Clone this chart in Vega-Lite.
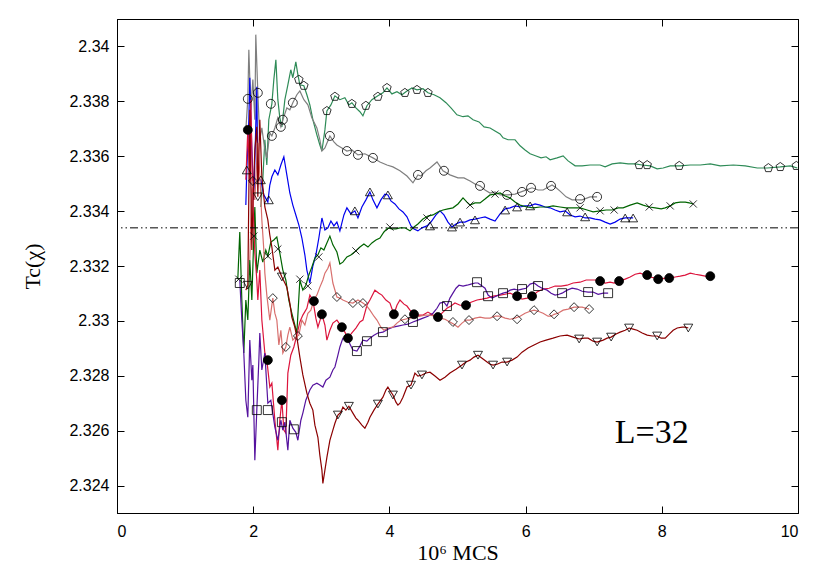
{
"$schema":"https://vega.github.io/schema/vega-lite/v6.json",
"width":681,"height":494,
"autosize":{"type":"none"},
"padding":{"left":117,"top":19,"right":32,"bottom":68},
"background":"white",
"config":{"view":{"stroke":"black","strokeWidth":1},
"axis":{"grid":false,"domainColor":"black","tickColor":"black","labelColor":"black","titleColor":"black","labelFont":"Liberation Sans","labelFontSize":16,"titleFont":"Liberation Serif","titleFontSize":22,"titleFontWeight":"normal","tickSize":-7,"domainWidth":1}},
"datasets":{
"lines":[
{"s":"a","x":2.112,"y":2.33415},{"s":"a","x":2.141,"y":2.33514},{"s":"a","x":2.171,"y":2.3366},{"s":"a","x":2.2,"y":2.33568},{"s":"a","x":2.229,"y":2.33733},{"s":"a","x":2.274,"y":2.33791},{"s":"a","x":2.303,"y":2.33879},{"s":"a","x":2.333,"y":2.33951},{"s":"a","x":2.362,"y":2.33806},{"s":"a","x":2.391,"y":2.3374},{"s":"a","x":2.421,"y":2.33707},{"s":"a","x":2.465,"y":2.33806},{"s":"a","x":2.509,"y":2.3386},{"s":"a","x":2.552,"y":2.33915},{"s":"a","x":2.582,"y":2.33886},{"s":"a","x":2.626,"y":2.33944},{"s":"a","x":2.656,"y":2.33897},{"s":"a","x":2.685,"y":2.3386},{"s":"a","x":2.744,"y":2.33857},{"s":"a","x":2.788,"y":2.33824},{"s":"a","x":2.832,"y":2.33787},{"s":"a","x":2.876,"y":2.33733},{"s":"a","x":2.935,"y":2.33678},{"s":"a","x":2.979,"y":2.33641},{"s":"a","x":3.009,"y":2.33619},{"s":"a","x":3.053,"y":2.33696},{"s":"a","x":3.082,"y":2.33765},{"s":"a","x":3.141,"y":2.33787},{"s":"a","x":3.2,"y":2.3382},{"s":"a","x":3.273,"y":2.33806},{"s":"a","x":3.346,"y":2.33813},{"s":"a","x":3.405,"y":2.33787},{"s":"a","x":3.449,"y":2.33795},{"s":"a","x":3.508,"y":2.33776},{"s":"a","x":3.567,"y":2.33762},{"s":"a","x":3.611,"y":2.33747},{"s":"a","x":3.67,"y":2.33784},{"s":"a","x":3.743,"y":2.33806},{"s":"a","x":3.831,"y":2.3382},{"s":"a","x":3.905,"y":2.33831},{"s":"a","x":3.964,"y":2.33849},{"s":"a","x":4.037,"y":2.33827},{"s":"a","x":4.111,"y":2.33835},{"s":"a","x":4.184,"y":2.33824},{"s":"a","x":4.258,"y":2.33838},{"s":"a","x":4.331,"y":2.33849},{"s":"a","x":4.405,"y":2.33842},{"s":"a","x":4.493,"y":2.33846},{"s":"a","x":4.566,"y":2.33831},{"s":"a","x":4.655,"y":2.33824},{"s":"a","x":4.743,"y":2.33813},{"s":"a","x":4.831,"y":2.33795},{"s":"a","x":4.904,"y":2.33776},{"s":"a","x":4.992,"y":2.33751},{"s":"a","x":5.081,"y":2.33744},{"s":"a","x":5.154,"y":2.33747},{"s":"a","x":5.228,"y":2.33733},{"s":"a","x":5.316,"y":2.33725},{"s":"a","x":5.39,"y":2.33707},{"s":"a","x":5.478,"y":2.33703},{"s":"a","x":5.551,"y":2.33692},{"s":"a","x":5.625,"y":2.33681},{"s":"a","x":5.669,"y":2.33667},{"s":"a","x":5.742,"y":2.3366},{"s":"a","x":5.845,"y":2.3366},{"s":"a","x":5.919,"y":2.33638},{"s":"a","x":5.992,"y":2.33623},{"s":"a","x":6.066,"y":2.33609},{"s":"a","x":6.154,"y":2.33601},{"s":"a","x":6.227,"y":2.33594},{"s":"a","x":6.301,"y":2.33598},{"s":"a","x":6.36,"y":2.33587},{"s":"a","x":6.462,"y":2.33594},{"s":"a","x":6.551,"y":2.33601},{"s":"a","x":6.624,"y":2.33583},{"s":"a","x":6.727,"y":2.33565},{"s":"a","x":6.83,"y":2.33565},{"s":"a","x":6.947,"y":2.33568},{"s":"a","x":7.094,"y":2.33568},{"s":"a","x":7.168,"y":2.33561},{"s":"a","x":7.271,"y":2.33572},{"s":"a","x":7.388,"y":2.33576},{"s":"a","x":7.506,"y":2.33572},{"s":"a","x":7.609,"y":2.33572},{"s":"a","x":7.712,"y":2.33568},{"s":"a","x":7.829,"y":2.33565},{"s":"a","x":7.932,"y":2.33554},{"s":"a","x":8.02,"y":2.33557},{"s":"a","x":8.123,"y":2.33565},{"s":"a","x":8.271,"y":2.33565},{"s":"a","x":8.418,"y":2.33568},{"s":"a","x":8.565,"y":2.33568},{"s":"a","x":8.712,"y":2.33572},{"s":"a","x":8.859,"y":2.33565},{"s":"a","x":9.05,"y":2.33568},{"s":"a","x":9.226,"y":2.33565},{"s":"a","x":9.402,"y":2.33557},{"s":"a","x":9.55,"y":2.33557},{"s":"a","x":9.74,"y":2.33561},{"s":"a","x":9.887,"y":2.33565},{"s":"a","x":9.99,"y":2.33557},
{"s":"b","x":1.892,"y":2.33696},{"s":"b","x":1.921,"y":2.33809},{"s":"b","x":1.936,"y":2.33988},{"s":"b","x":1.965,"y":2.33769},{"s":"b","x":1.995,"y":2.33879},{"s":"b","x":2.024,"y":2.33733},{"s":"b","x":2.038,"y":2.34043},{"s":"b","x":2.068,"y":2.33831},{"s":"b","x":2.097,"y":2.3366},{"s":"b","x":2.127,"y":2.33703},{"s":"b","x":2.171,"y":2.33623},{"s":"b","x":2.2,"y":2.33594},{"s":"b","x":2.244,"y":2.33685},{"s":"b","x":2.274,"y":2.33674},{"s":"b","x":2.318,"y":2.33703},{"s":"b","x":2.362,"y":2.3374},{"s":"b","x":2.406,"y":2.33707},{"s":"b","x":2.435,"y":2.33733},{"s":"b","x":2.494,"y":2.33776},{"s":"b","x":2.538,"y":2.33769},{"s":"b","x":2.582,"y":2.33795},{"s":"b","x":2.641,"y":2.33824},{"s":"b","x":2.685,"y":2.33838},{"s":"b","x":2.744,"y":2.33806},{"s":"b","x":2.803,"y":2.33787},{"s":"b","x":2.861,"y":2.3374},{"s":"b","x":2.935,"y":2.33703},{"s":"b","x":2.979,"y":2.3366},{"s":"b","x":3.009,"y":2.33619},{"s":"b","x":3.053,"y":2.3363},{"s":"b","x":3.126,"y":2.33674},{"s":"b","x":3.185,"y":2.33652},{"s":"b","x":3.229,"y":2.33641},{"s":"b","x":3.302,"y":2.3363},{"s":"b","x":3.376,"y":2.33619},{"s":"b","x":3.449,"y":2.33623},{"s":"b","x":3.538,"y":2.33605},{"s":"b","x":3.64,"y":2.33609},{"s":"b","x":3.758,"y":2.33594},{"s":"b","x":3.861,"y":2.33579},{"s":"b","x":3.964,"y":2.33568},{"s":"b","x":4.052,"y":2.33561},{"s":"b","x":4.155,"y":2.33547},{"s":"b","x":4.258,"y":2.33528},{"s":"b","x":4.346,"y":2.33503},{"s":"b","x":4.419,"y":2.33532},{"s":"b","x":4.464,"y":2.33528},{"s":"b","x":4.537,"y":2.33547},{"s":"b","x":4.596,"y":2.33557},{"s":"b","x":4.699,"y":2.33579},{"s":"b","x":4.787,"y":2.33547},{"s":"b","x":4.889,"y":2.33532},{"s":"b","x":5.007,"y":2.33521},{"s":"b","x":5.095,"y":2.33521},{"s":"b","x":5.184,"y":2.3351},{"s":"b","x":5.257,"y":2.33499},{"s":"b","x":5.331,"y":2.33492},{"s":"b","x":5.404,"y":2.33477},{"s":"b","x":5.478,"y":2.33466},{"s":"b","x":5.551,"y":2.3347},{"s":"b","x":5.625,"y":2.33459},{"s":"b","x":5.742,"y":2.33459},{"s":"b","x":5.845,"y":2.33462},{"s":"b","x":5.963,"y":2.33473},{"s":"b","x":6.095,"y":2.33485},{"s":"b","x":6.183,"y":2.33477},{"s":"b","x":6.257,"y":2.33477},{"s":"b","x":6.389,"y":2.33495},{"s":"b","x":6.448,"y":2.33485},{"s":"b","x":6.506,"y":2.33473},{"s":"b","x":6.595,"y":2.33452},{"s":"b","x":6.683,"y":2.33441},{"s":"b","x":6.83,"y":2.33441},{"s":"b","x":6.947,"y":2.33452},{"s":"b","x":7.05,"y":2.33452},
{"s":"c","x":1.892,"y":2.33422},{"s":"c","x":1.906,"y":2.3355},{"s":"c","x":1.936,"y":2.33733},{"s":"c","x":1.95,"y":2.33886},{"s":"c","x":1.98,"y":2.33623},{"s":"c","x":2.009,"y":2.33441},{"s":"c","x":2.053,"y":2.33853},{"s":"c","x":2.068,"y":2.33514},{"s":"c","x":2.112,"y":2.33514},{"s":"c","x":2.156,"y":2.33459},{"s":"c","x":2.215,"y":2.33433},{"s":"c","x":2.244,"y":2.33495},{"s":"c","x":2.274,"y":2.33525},{"s":"c","x":2.318,"y":2.3355},{"s":"c","x":2.362,"y":2.33532},{"s":"c","x":2.406,"y":2.33568},{"s":"c","x":2.45,"y":2.33598},{"s":"c","x":2.494,"y":2.33532},{"s":"c","x":2.538,"y":2.33466},{"s":"c","x":2.582,"y":2.33422},{"s":"c","x":2.626,"y":2.33386},{"s":"c","x":2.67,"y":2.3335},{"s":"c","x":2.715,"y":2.33302},{"s":"c","x":2.759,"y":2.3324},{"s":"c","x":2.788,"y":2.33185},{"s":"c","x":2.832,"y":2.33138},{"s":"c","x":2.876,"y":2.332},{"s":"c","x":2.92,"y":2.3324},{"s":"c","x":2.964,"y":2.33302},{"s":"c","x":3.009,"y":2.33375},{"s":"c","x":3.053,"y":2.33331},{"s":"c","x":3.097,"y":2.33339},{"s":"c","x":3.141,"y":2.33364},{"s":"c","x":3.185,"y":2.33346},{"s":"c","x":3.229,"y":2.3336},{"s":"c","x":3.273,"y":2.33328},{"s":"c","x":3.332,"y":2.33386},{"s":"c","x":3.376,"y":2.33412},{"s":"c","x":3.434,"y":2.3339},{"s":"c","x":3.493,"y":2.33401},{"s":"c","x":3.538,"y":2.33375},{"s":"c","x":3.596,"y":2.33415},{"s":"c","x":3.655,"y":2.33441},{"s":"c","x":3.714,"y":2.3347},{"s":"c","x":3.758,"y":2.33441},{"s":"c","x":3.817,"y":2.33412},{"s":"c","x":3.875,"y":2.33441},{"s":"c","x":3.934,"y":2.33462},{"s":"c","x":3.978,"y":2.33459},{"s":"c","x":4.022,"y":2.33437},{"s":"c","x":4.081,"y":2.33426},{"s":"c","x":4.14,"y":2.33408},{"s":"c","x":4.199,"y":2.33397},{"s":"c","x":4.258,"y":2.33379},{"s":"c","x":4.317,"y":2.33346},{"s":"c","x":4.361,"y":2.33335},{"s":"c","x":4.419,"y":2.33328},{"s":"c","x":4.478,"y":2.33339},{"s":"c","x":4.552,"y":2.33346},{"s":"c","x":4.61,"y":2.3336},{"s":"c","x":4.684,"y":2.33386},{"s":"c","x":4.743,"y":2.33401},{"s":"c","x":4.801,"y":2.33386},{"s":"c","x":4.86,"y":2.3336},{"s":"c","x":4.919,"y":2.33342},{"s":"c","x":4.978,"y":2.33353},{"s":"c","x":5.037,"y":2.3336},{"s":"c","x":5.11,"y":2.3336},{"s":"c","x":5.184,"y":2.33368},{"s":"c","x":5.257,"y":2.33371},{"s":"c","x":5.331,"y":2.33375},{"s":"c","x":5.404,"y":2.33379},{"s":"c","x":5.478,"y":2.33371},{"s":"c","x":5.551,"y":2.33364},{"s":"c","x":5.625,"y":2.3339},{"s":"c","x":5.699,"y":2.33408},{"s":"c","x":5.772,"y":2.33412},{"s":"c","x":5.845,"y":2.33419},{"s":"c","x":5.919,"y":2.33415},{"s":"c","x":5.992,"y":2.33419},{"s":"c","x":6.066,"y":2.33419},{"s":"c","x":6.139,"y":2.33426},{"s":"c","x":6.213,"y":2.33422},{"s":"c","x":6.286,"y":2.33415},{"s":"c","x":6.36,"y":2.33412},{"s":"c","x":6.433,"y":2.33404},{"s":"c","x":6.506,"y":2.33397},{"s":"c","x":6.58,"y":2.33401},{"s":"c","x":6.654,"y":2.33386},{"s":"c","x":6.727,"y":2.33379},{"s":"c","x":6.8,"y":2.33382},{"s":"c","x":6.874,"y":2.33375},{"s":"c","x":6.947,"y":2.33375},{"s":"c","x":7.021,"y":2.33371},{"s":"c","x":7.094,"y":2.33368},{"s":"c","x":7.168,"y":2.3336},{"s":"c","x":7.241,"y":2.33353},{"s":"c","x":7.315,"y":2.3336},{"s":"c","x":7.388,"y":2.33371},{"s":"c","x":7.462,"y":2.33375},{"s":"c","x":7.52,"y":2.33375},{"s":"c","x":7.579,"y":2.33375},
{"s":"d","x":1.774,"y":2.33152},{"s":"d","x":1.803,"y":2.33324},{"s":"d","x":1.833,"y":2.33076},{"s":"d","x":1.862,"y":2.32883},{"s":"d","x":1.892,"y":2.33076},{"s":"d","x":1.921,"y":2.33003},{"s":"d","x":1.95,"y":2.33222},{"s":"d","x":1.98,"y":2.33076},{"s":"d","x":2.009,"y":2.33309},{"s":"d","x":2.024,"y":2.33415},{"s":"d","x":2.053,"y":2.33174},{"s":"d","x":2.097,"y":2.33258},{"s":"d","x":2.141,"y":2.33214},{"s":"d","x":2.185,"y":2.33258},{"s":"d","x":2.215,"y":2.33236},{"s":"d","x":2.259,"y":2.33287},{"s":"d","x":2.303,"y":2.33295},{"s":"d","x":2.347,"y":2.33306},{"s":"d","x":2.391,"y":2.33247},{"s":"d","x":2.435,"y":2.33185},{"s":"d","x":2.479,"y":2.33149},{"s":"d","x":2.523,"y":2.33076},{"s":"d","x":2.567,"y":2.33028},{"s":"d","x":2.611,"y":2.32985},{"s":"d","x":2.641,"y":2.32956},{"s":"d","x":2.685,"y":2.33149},{"s":"d","x":2.729,"y":2.33112},{"s":"d","x":2.773,"y":2.3313},{"s":"d","x":2.817,"y":2.33167},{"s":"d","x":2.861,"y":2.33196},{"s":"d","x":2.906,"y":2.33229},{"s":"d","x":2.95,"y":2.3324},{"s":"d","x":2.994,"y":2.33266},{"s":"d","x":3.038,"y":2.33258},{"s":"d","x":3.082,"y":2.33284},{"s":"d","x":3.126,"y":2.33309},{"s":"d","x":3.17,"y":2.33277},{"s":"d","x":3.229,"y":2.33251},{"s":"d","x":3.273,"y":2.33207},{"s":"d","x":3.317,"y":2.33214},{"s":"d","x":3.376,"y":2.33233},{"s":"d","x":3.434,"y":2.3324},{"s":"d","x":3.508,"y":2.33255},{"s":"d","x":3.567,"y":2.33269},{"s":"d","x":3.626,"y":2.3328},{"s":"d","x":3.685,"y":2.33269},{"s":"d","x":3.743,"y":2.33284},{"s":"d","x":3.802,"y":2.33295},{"s":"d","x":3.861,"y":2.33302},{"s":"d","x":3.92,"y":2.33324},{"s":"d","x":3.978,"y":2.33339},{"s":"d","x":4.037,"y":2.33335},{"s":"d","x":4.096,"y":2.33335},{"s":"d","x":4.155,"y":2.33339},{"s":"d","x":4.228,"y":2.33339},{"s":"d","x":4.302,"y":2.33328},{"s":"d","x":4.361,"y":2.33342},{"s":"d","x":4.419,"y":2.33353},{"s":"d","x":4.493,"y":2.33371},{"s":"d","x":4.566,"y":2.33382},{"s":"d","x":4.64,"y":2.33386},{"s":"d","x":4.713,"y":2.33397},{"s":"d","x":4.787,"y":2.33404},{"s":"d","x":4.86,"y":2.33408},{"s":"d","x":4.933,"y":2.33412},{"s":"d","x":5.007,"y":2.33426},{"s":"d","x":5.081,"y":2.33448},{"s":"d","x":5.139,"y":2.33433},{"s":"d","x":5.184,"y":2.33422},{"s":"d","x":5.257,"y":2.3343},{"s":"d","x":5.331,"y":2.3343},{"s":"d","x":5.404,"y":2.33444},{"s":"d","x":5.478,"y":2.33459},{"s":"d","x":5.551,"y":2.33462},{"s":"d","x":5.625,"y":2.33466},{"s":"d","x":5.699,"y":2.33455},{"s":"d","x":5.772,"y":2.33448},{"s":"d","x":5.845,"y":2.33433},{"s":"d","x":5.919,"y":2.33422},{"s":"d","x":6.022,"y":2.33415},{"s":"d","x":6.11,"y":2.33412},{"s":"d","x":6.213,"y":2.33415},{"s":"d","x":6.316,"y":2.33415},{"s":"d","x":6.403,"y":2.33419},{"s":"d","x":6.506,"y":2.33415},{"s":"d","x":6.595,"y":2.33412},{"s":"d","x":6.698,"y":2.33412},{"s":"d","x":6.8,"y":2.33412},{"s":"d","x":6.903,"y":2.33404},{"s":"d","x":6.991,"y":2.33397},{"s":"d","x":7.094,"y":2.33401},{"s":"d","x":7.183,"y":2.33404},{"s":"d","x":7.271,"y":2.33404},{"s":"d","x":7.359,"y":2.33412},{"s":"d","x":7.432,"y":2.33412},{"s":"d","x":7.535,"y":2.33422},{"s":"d","x":7.638,"y":2.3343},{"s":"d","x":7.726,"y":2.33422},{"s":"d","x":7.815,"y":2.33415},{"s":"d","x":7.903,"y":2.33412},{"s":"d","x":7.991,"y":2.33408},{"s":"d","x":8.05,"y":2.33412},{"s":"d","x":8.123,"y":2.33419},{"s":"d","x":8.197,"y":2.3343},{"s":"d","x":8.271,"y":2.33433},{"s":"d","x":8.344,"y":2.33433},{"s":"d","x":8.403,"y":2.3343},{"s":"d","x":8.462,"y":2.33426},
{"s":"e","x":1.892,"y":2.33514},{"s":"e","x":1.921,"y":2.33696},{"s":"e","x":1.95,"y":2.33503},{"s":"e","x":1.965,"y":2.33806},{"s":"e","x":1.995,"y":2.33441},{"s":"e","x":2.024,"y":2.33247},{"s":"e","x":2.053,"y":2.33149},{"s":"e","x":2.068,"y":2.33076},{"s":"e","x":2.097,"y":2.33185},{"s":"e","x":2.127,"y":2.33003},{"s":"e","x":2.171,"y":2.32883},{"s":"e","x":2.2,"y":2.32857},{"s":"e","x":2.244,"y":2.32759},{"s":"e","x":2.274,"y":2.32773},{"s":"e","x":2.318,"y":2.32638},{"s":"e","x":2.362,"y":2.32529},{"s":"e","x":2.391,"y":2.32638},{"s":"e","x":2.421,"y":2.32711},{"s":"e","x":2.45,"y":2.32602},{"s":"e","x":2.479,"y":2.32591},{"s":"e","x":2.509,"y":2.3281},{"s":"e","x":2.552,"y":2.32875},{"s":"e","x":2.597,"y":2.32905},{"s":"e","x":2.641,"y":2.32948},{"s":"e","x":2.685,"y":2.32996},{"s":"e","x":2.729,"y":2.33021},{"s":"e","x":2.788,"y":2.33046},{"s":"e","x":2.832,"y":2.33094},{"s":"e","x":2.876,"y":2.33076},{"s":"e","x":2.92,"y":2.3301},{"s":"e","x":2.95,"y":2.32977},{"s":"e","x":3.009,"y":2.33024},{"s":"e","x":3.053,"y":2.32985},{"s":"e","x":3.082,"y":2.3293},{"s":"e","x":3.126,"y":2.32966},{"s":"e","x":3.17,"y":2.32992},{"s":"e","x":3.229,"y":2.33003},{"s":"e","x":3.302,"y":2.32977},{"s":"e","x":3.346,"y":2.32959},{"s":"e","x":3.391,"y":2.32937},{"s":"e","x":3.449,"y":2.32956},{"s":"e","x":3.508,"y":2.32974},{"s":"e","x":3.567,"y":2.32996},{"s":"e","x":3.611,"y":2.33003},{"s":"e","x":3.67,"y":2.33057},{"s":"e","x":3.714,"y":2.33076},{"s":"e","x":3.787,"y":2.33112},{"s":"e","x":3.846,"y":2.33101},{"s":"e","x":3.89,"y":2.33094},{"s":"e","x":3.949,"y":2.33076},{"s":"e","x":4.008,"y":2.33065},{"s":"e","x":4.066,"y":2.33024},{"s":"e","x":4.111,"y":2.33057},{"s":"e","x":4.155,"y":2.33076},{"s":"e","x":4.214,"y":2.33061},{"s":"e","x":4.258,"y":2.33054},{"s":"e","x":4.302,"y":2.33039},{"s":"e","x":4.361,"y":2.33024},{"s":"e","x":4.419,"y":2.33021},{"s":"e","x":4.493,"y":2.33021},{"s":"e","x":4.566,"y":2.33032},{"s":"e","x":4.64,"y":2.33021},{"s":"e","x":4.713,"y":2.33014},{"s":"e","x":4.787,"y":2.33032},{"s":"e","x":4.845,"y":2.33046},{"s":"e","x":4.904,"y":2.33054},{"s":"e","x":4.963,"y":2.33065},{"s":"e","x":5.037,"y":2.33057},{"s":"e","x":5.125,"y":2.33057},{"s":"e","x":5.198,"y":2.33068},{"s":"e","x":5.287,"y":2.33076},{"s":"e","x":5.36,"y":2.33079},{"s":"e","x":5.434,"y":2.33083},{"s":"e","x":5.522,"y":2.3309},{"s":"e","x":5.625,"y":2.33094},{"s":"e","x":5.699,"y":2.33097},{"s":"e","x":5.772,"y":2.33101},{"s":"e","x":5.875,"y":2.3309},{"s":"e","x":5.948,"y":2.33079},{"s":"e","x":6.022,"y":2.33083},{"s":"e","x":6.095,"y":2.3309},{"s":"e","x":6.168,"y":2.33105},{"s":"e","x":6.257,"y":2.33116},{"s":"e","x":6.345,"y":2.33119},{"s":"e","x":6.433,"y":2.33127},{"s":"e","x":6.521,"y":2.33127},{"s":"e","x":6.61,"y":2.3313},{"s":"e","x":6.698,"y":2.33138},{"s":"e","x":6.8,"y":2.33141},{"s":"e","x":6.889,"y":2.33149},{"s":"e","x":6.947,"y":2.33149},{"s":"e","x":7.021,"y":2.33149},{"s":"e","x":7.094,"y":2.33145},{"s":"e","x":7.168,"y":2.33138},{"s":"e","x":7.241,"y":2.33141},{"s":"e","x":7.3,"y":2.33138},{"s":"e","x":7.373,"y":2.33145},{"s":"e","x":7.462,"y":2.33152},{"s":"e","x":7.535,"y":2.3316},{"s":"e","x":7.609,"y":2.3317},{"s":"e","x":7.682,"y":2.33174},{"s":"e","x":7.756,"y":2.33167},{"s":"e","x":7.829,"y":2.3316},{"s":"e","x":7.903,"y":2.33156},{"s":"e","x":7.976,"y":2.33152},{"s":"e","x":8.05,"y":2.33156},{"s":"e","x":8.123,"y":2.33156},{"s":"e","x":8.197,"y":2.3316},{"s":"e","x":8.271,"y":2.33163},{"s":"e","x":8.344,"y":2.33167},{"s":"e","x":8.418,"y":2.33174},{"s":"e","x":8.491,"y":2.3317},{"s":"e","x":8.565,"y":2.33167},{"s":"e","x":8.638,"y":2.33163},{"s":"e","x":8.712,"y":2.33163},
{"s":"f","x":1.803,"y":2.33149},{"s":"f","x":1.833,"y":2.33003},{"s":"f","x":1.862,"y":2.32883},{"s":"f","x":1.892,"y":2.32711},{"s":"f","x":1.921,"y":2.32649},{"s":"f","x":1.95,"y":2.3293},{"s":"f","x":1.98,"y":2.32784},{"s":"f","x":1.995,"y":2.32839},{"s":"f","x":2.024,"y":2.32492},{"s":"f","x":2.053,"y":2.32675},{"s":"f","x":2.083,"y":2.32857},{"s":"f","x":2.097,"y":2.32956},{"s":"f","x":2.127,"y":2.32821},{"s":"f","x":2.171,"y":2.32883},{"s":"f","x":2.215,"y":2.327},{"s":"f","x":2.259,"y":2.32711},{"s":"f","x":2.318,"y":2.32613},{"s":"f","x":2.362,"y":2.32565},{"s":"f","x":2.406,"y":2.32638},{"s":"f","x":2.435,"y":2.32602},{"s":"f","x":2.465,"y":2.32631},{"s":"f","x":2.509,"y":2.32529},{"s":"f","x":2.538,"y":2.32638},{"s":"f","x":2.582,"y":2.32609},{"s":"f","x":2.626,"y":2.32594},{"s":"f","x":2.656,"y":2.32565},{"s":"f","x":2.7,"y":2.32638},{"s":"f","x":2.729,"y":2.32664},{"s":"f","x":2.773,"y":2.32711},{"s":"f","x":2.832,"y":2.32748},{"s":"f","x":2.876,"y":2.32766},{"s":"f","x":2.935,"y":2.32773},{"s":"f","x":2.979,"y":2.32766},{"s":"f","x":3.023,"y":2.32759},{"s":"f","x":3.068,"y":2.32784},{"s":"f","x":3.126,"y":2.32795},{"s":"f","x":3.17,"y":2.32821},{"s":"f","x":3.2,"y":2.32832},{"s":"f","x":3.244,"y":2.32875},{"s":"f","x":3.273,"y":2.32905},{"s":"f","x":3.317,"y":2.32937},{"s":"f","x":3.391,"y":2.3293},{"s":"f","x":3.464,"y":2.32894},{"s":"f","x":3.523,"y":2.3289},{"s":"f","x":3.567,"y":2.32908},{"s":"f","x":3.611,"y":2.3293},{"s":"f","x":3.67,"y":2.32926},{"s":"f","x":3.714,"y":2.32937},{"s":"f","x":3.773,"y":2.32948},{"s":"f","x":3.831,"y":2.32956},{"s":"f","x":3.905,"y":2.32959},{"s":"f","x":3.978,"y":2.3297},{"s":"f","x":4.052,"y":2.32977},{"s":"f","x":4.125,"y":2.32981},{"s":"f","x":4.199,"y":2.32985},{"s":"f","x":4.273,"y":2.32988},{"s":"f","x":4.346,"y":2.32996},{"s":"f","x":4.419,"y":2.33003},{"s":"f","x":4.493,"y":2.3301},{"s":"f","x":4.566,"y":2.33017},{"s":"f","x":4.64,"y":2.33028},{"s":"f","x":4.699,"y":2.33046},{"s":"f","x":4.743,"y":2.33065},{"s":"f","x":4.801,"y":2.33068},{"s":"f","x":4.845,"y":2.33054},{"s":"f","x":4.889,"y":2.33083},{"s":"f","x":4.933,"y":2.33101},{"s":"f","x":4.978,"y":2.33119},{"s":"f","x":5.022,"y":2.3313},{"s":"f","x":5.081,"y":2.33127},{"s":"f","x":5.139,"y":2.3313},{"s":"f","x":5.198,"y":2.33134},{"s":"f","x":5.257,"y":2.33138},{"s":"f","x":5.301,"y":2.33138},{"s":"f","x":5.36,"y":2.33127},{"s":"f","x":5.404,"y":2.33119},{"s":"f","x":5.449,"y":2.33094},{"s":"f","x":5.508,"y":2.33083},{"s":"f","x":5.566,"y":2.3309},{"s":"f","x":5.625,"y":2.33097},{"s":"f","x":5.669,"y":2.33101},{"s":"f","x":5.728,"y":2.33105},{"s":"f","x":5.772,"y":2.33112},{"s":"f","x":5.831,"y":2.33116},{"s":"f","x":5.89,"y":2.33112},{"s":"f","x":5.948,"y":2.33116},{"s":"f","x":6.007,"y":2.33119},{"s":"f","x":6.066,"y":2.33134},{"s":"f","x":6.124,"y":2.33138},{"s":"f","x":6.183,"y":2.33127},{"s":"f","x":6.242,"y":2.33119},{"s":"f","x":6.316,"y":2.33112},{"s":"f","x":6.374,"y":2.33101},{"s":"f","x":6.433,"y":2.33094},{"s":"f","x":6.492,"y":2.33097},{"s":"f","x":6.536,"y":2.33101},{"s":"f","x":6.61,"y":2.33112},{"s":"f","x":6.683,"y":2.33119},{"s":"f","x":6.756,"y":2.33116},{"s":"f","x":6.83,"y":2.33108},{"s":"f","x":6.918,"y":2.33105},{"s":"f","x":6.991,"y":2.33105},{"s":"f","x":7.065,"y":2.33097},{"s":"f","x":7.139,"y":2.33101},{"s":"f","x":7.212,"y":2.33101},
{"s":"g","x":1.95,"y":2.33222},{"s":"g","x":1.98,"y":2.33477},{"s":"g","x":1.995,"y":2.3351},{"s":"g","x":2.024,"y":2.33441},{"s":"g","x":2.053,"y":2.33587},{"s":"g","x":2.068,"y":2.33649},{"s":"g","x":2.097,"y":2.33532},{"s":"g","x":2.127,"y":2.33368},{"s":"g","x":2.156,"y":2.33258},{"s":"g","x":2.171,"y":2.33174},{"s":"g","x":2.2,"y":2.33094},{"s":"g","x":2.244,"y":2.33003},{"s":"g","x":2.288,"y":2.33083},{"s":"g","x":2.318,"y":2.33028},{"s":"g","x":2.347,"y":2.33003},{"s":"g","x":2.377,"y":2.32912},{"s":"g","x":2.406,"y":2.32966},{"s":"g","x":2.435,"y":2.32883},{"s":"g","x":2.479,"y":2.32905},{"s":"g","x":2.509,"y":2.32948},{"s":"g","x":2.538,"y":2.32977},{"s":"g","x":2.582,"y":2.3293},{"s":"g","x":2.626,"y":2.32941},{"s":"g","x":2.67,"y":2.32948},{"s":"g","x":2.715,"y":2.33003},{"s":"g","x":2.759,"y":2.32985},{"s":"g","x":2.803,"y":2.33028},{"s":"g","x":2.847,"y":2.33039},{"s":"g","x":2.891,"y":2.33076},{"s":"g","x":2.935,"y":2.33094},{"s":"g","x":2.979,"y":2.33123},{"s":"g","x":3.023,"y":2.33149},{"s":"g","x":3.053,"y":2.33174},{"s":"g","x":3.097,"y":2.33192},{"s":"g","x":3.126,"y":2.33211},{"s":"g","x":3.17,"y":2.33138},{"s":"g","x":3.229,"y":2.33087},{"s":"g","x":3.273,"y":2.33083},{"s":"g","x":3.317,"y":2.33076},{"s":"g","x":3.391,"y":2.33068},{"s":"g","x":3.464,"y":2.33065},{"s":"g","x":3.538,"y":2.33076},{"s":"g","x":3.611,"y":2.33065},{"s":"g","x":3.67,"y":2.33054},{"s":"g","x":3.714,"y":2.33039},{"s":"g","x":3.773,"y":2.33017},{"s":"g","x":3.817,"y":2.33003},{"s":"g","x":3.875,"y":2.32977},{"s":"g","x":3.92,"y":2.32966},{"s":"g","x":3.978,"y":2.32974},{"s":"g","x":4.052,"y":2.32977},{"s":"g","x":4.111,"y":2.32992},{"s":"g","x":4.17,"y":2.33003},{"s":"g","x":4.228,"y":2.33006},{"s":"g","x":4.302,"y":2.3301},{"s":"g","x":4.375,"y":2.33014},{"s":"g","x":4.449,"y":2.33017},{"s":"g","x":4.522,"y":2.33021},{"s":"g","x":4.596,"y":2.33021},{"s":"g","x":4.669,"y":2.33017},{"s":"g","x":4.743,"y":2.3301},{"s":"g","x":4.816,"y":2.33006},{"s":"g","x":4.889,"y":2.32996},{"s":"g","x":4.948,"y":2.32988},{"s":"g","x":5.007,"y":2.32977},{"s":"g","x":5.066,"y":2.32992},{"s":"g","x":5.125,"y":2.33003},{"s":"g","x":5.184,"y":2.33003},{"s":"g","x":5.257,"y":2.3301},{"s":"g","x":5.331,"y":2.33014},{"s":"g","x":5.404,"y":2.3301},{"s":"g","x":5.478,"y":2.3301},{"s":"g","x":5.551,"y":2.33017},{"s":"g","x":5.625,"y":2.33017},{"s":"g","x":5.699,"y":2.3301},{"s":"g","x":5.772,"y":2.33006},{"s":"g","x":5.845,"y":2.3301},{"s":"g","x":5.919,"y":2.33017},{"s":"g","x":5.992,"y":2.33028},{"s":"g","x":6.066,"y":2.33035},{"s":"g","x":6.124,"y":2.33039},{"s":"g","x":6.183,"y":2.33035},{"s":"g","x":6.257,"y":2.33028},{"s":"g","x":6.33,"y":2.33017},{"s":"g","x":6.374,"y":2.33017},{"s":"g","x":6.418,"y":2.33024},{"s":"g","x":6.477,"y":2.33028},{"s":"g","x":6.551,"y":2.33039},{"s":"g","x":6.624,"y":2.33043},{"s":"g","x":6.712,"y":2.3305},{"s":"g","x":6.771,"y":2.3305},{"s":"g","x":6.83,"y":2.3305},{"s":"g","x":6.889,"y":2.33046},{"s":"g","x":6.933,"y":2.33043},
{"s":"h","x":1.892,"y":2.33112},{"s":"h","x":1.921,"y":2.3313},{"s":"h","x":1.95,"y":2.33769},{"s":"h","x":1.98,"y":2.33258},{"s":"h","x":1.995,"y":2.33415},{"s":"h","x":2.024,"y":2.33623},{"s":"h","x":2.053,"y":2.33707},{"s":"h","x":2.068,"y":2.33452},{"s":"h","x":2.097,"y":2.33733},{"s":"h","x":2.127,"y":2.33525},{"s":"h","x":2.171,"y":2.33415},{"s":"h","x":2.215,"y":2.33368},{"s":"h","x":2.244,"y":2.33313},{"s":"h","x":2.274,"y":2.33269},{"s":"h","x":2.318,"y":2.33185},{"s":"h","x":2.362,"y":2.33196},{"s":"h","x":2.421,"y":2.3316},{"s":"h","x":2.465,"y":2.33138},{"s":"h","x":2.494,"y":2.33123},{"s":"h","x":2.538,"y":2.33065},{"s":"h","x":2.567,"y":2.33014},{"s":"h","x":2.611,"y":2.32977},{"s":"h","x":2.641,"y":2.32941},{"s":"h","x":2.685,"y":2.32868},{"s":"h","x":2.729,"y":2.32803},{"s":"h","x":2.788,"y":2.32737},{"s":"h","x":2.832,"y":2.327},{"s":"h","x":2.876,"y":2.32675},{"s":"h","x":2.906,"y":2.3262},{"s":"h","x":2.95,"y":2.32576},{"s":"h","x":2.979,"y":2.3251},{"s":"h","x":3.009,"y":2.32456},{"s":"h","x":3.023,"y":2.32408},{"s":"h","x":3.053,"y":2.32456},{"s":"h","x":3.082,"y":2.32503},{"s":"h","x":3.126,"y":2.32565},{"s":"h","x":3.17,"y":2.32602},{"s":"h","x":3.2,"y":2.32627},{"s":"h","x":3.244,"y":2.32657},{"s":"h","x":3.288,"y":2.32667},{"s":"h","x":3.317,"y":2.32686},{"s":"h","x":3.361,"y":2.32675},{"s":"h","x":3.405,"y":2.32689},{"s":"h","x":3.464,"y":2.32664},{"s":"h","x":3.508,"y":2.32646},{"s":"h","x":3.538,"y":2.32638},{"s":"h","x":3.596,"y":2.3262},{"s":"h","x":3.64,"y":2.32609},{"s":"h","x":3.685,"y":2.32631},{"s":"h","x":3.714,"y":2.32649},{"s":"h","x":3.773,"y":2.32675},{"s":"h","x":3.831,"y":2.32697},{"s":"h","x":3.905,"y":2.32722},{"s":"h","x":3.949,"y":2.32748},{"s":"h","x":3.978,"y":2.32759},{"s":"h","x":4.022,"y":2.32741},{"s":"h","x":4.052,"y":2.3273},{"s":"h","x":4.096,"y":2.32704},{"s":"h","x":4.125,"y":2.32693},{"s":"h","x":4.155,"y":2.327},{"s":"h","x":4.199,"y":2.32722},{"s":"h","x":4.258,"y":2.32759},{"s":"h","x":4.317,"y":2.32766},{"s":"h","x":4.375,"y":2.3281},{"s":"h","x":4.419,"y":2.32799},{"s":"h","x":4.478,"y":2.32803},{"s":"h","x":4.537,"y":2.3281},{"s":"h","x":4.596,"y":2.32813},{"s":"h","x":4.669,"y":2.32799},{"s":"h","x":4.743,"y":2.32784},{"s":"h","x":4.816,"y":2.32795},{"s":"h","x":4.889,"y":2.3281},{"s":"h","x":4.978,"y":2.32824},{"s":"h","x":5.066,"y":2.32839},{"s":"h","x":5.125,"y":2.3285},{"s":"h","x":5.184,"y":2.32857},{"s":"h","x":5.242,"y":2.32868},{"s":"h","x":5.301,"y":2.32875},{"s":"h","x":5.375,"y":2.32861},{"s":"h","x":5.434,"y":2.3285},{"s":"h","x":5.478,"y":2.32842},{"s":"h","x":5.522,"y":2.32839},{"s":"h","x":5.581,"y":2.32842},{"s":"h","x":5.654,"y":2.3285},{"s":"h","x":5.728,"y":2.3285},{"s":"h","x":5.801,"y":2.32857},{"s":"h","x":5.875,"y":2.32868},{"s":"h","x":5.948,"y":2.32886},{"s":"h","x":6.036,"y":2.32901},{"s":"h","x":6.124,"y":2.32912},{"s":"h","x":6.213,"y":2.32923},{"s":"h","x":6.301,"y":2.3293},{"s":"h","x":6.403,"y":2.32937},{"s":"h","x":6.506,"y":2.32945},{"s":"h","x":6.61,"y":2.32948},{"s":"h","x":6.698,"y":2.32941},{"s":"h","x":6.786,"y":2.32934},{"s":"h","x":6.859,"y":2.32937},{"s":"h","x":6.918,"y":2.32937},{"s":"h","x":6.991,"y":2.32926},{"s":"h","x":7.05,"y":2.32923},{"s":"h","x":7.139,"y":2.3293},{"s":"h","x":7.197,"y":2.32937},{"s":"h","x":7.256,"y":2.32941},{"s":"h","x":7.329,"y":2.32952},{"s":"h","x":7.388,"y":2.32959},{"s":"h","x":7.462,"y":2.32966},{"s":"h","x":7.52,"y":2.32974},{"s":"h","x":7.579,"y":2.3297},{"s":"h","x":7.638,"y":2.32966},{"s":"h","x":7.712,"y":2.32956},{"s":"h","x":7.785,"y":2.32948},{"s":"h","x":7.859,"y":2.32945},{"s":"h","x":7.932,"y":2.32945},{"s":"h","x":7.991,"y":2.32937},{"s":"h","x":8.05,"y":2.32937},{"s":"h","x":8.109,"y":2.32952},{"s":"h","x":8.167,"y":2.32966},{"s":"h","x":8.226,"y":2.32974},{"s":"h","x":8.3,"y":2.32977},{"s":"h","x":8.344,"y":2.32977},{"s":"h","x":8.389,"y":2.32974}
],
"pts":[
{"s":"a","x":2.67,"y":2.33879},{"s":"a","x":2.744,"y":2.33857},{"s":"a","x":3.082,"y":2.33765},{"s":"a","x":3.2,"y":2.33817},{"s":"a","x":3.449,"y":2.33791},{"s":"a","x":3.655,"y":2.33784},{"s":"a","x":3.831,"y":2.33817},{"s":"a","x":3.964,"y":2.33849},{"s":"a","x":4.228,"y":2.33831},{"s":"a","x":4.405,"y":2.33842},{"s":"a","x":4.566,"y":2.33831},{"s":"a","x":7.668,"y":2.33568},{"s":"a","x":7.785,"y":2.33568},{"s":"a","x":8.256,"y":2.33565},{"s":"a","x":9.565,"y":2.33557},{"s":"a","x":9.74,"y":2.33561},{"s":"a","x":9.975,"y":2.33565},
{"s":"b","x":1.921,"y":2.33809},{"s":"b","x":2.068,"y":2.33831},{"s":"b","x":2.259,"y":2.33791},{"s":"b","x":2.274,"y":2.33674},{"s":"b","x":2.406,"y":2.33707},{"s":"b","x":2.435,"y":2.33733},{"s":"b","x":2.582,"y":2.33795},{"s":"b","x":3.126,"y":2.33674},{"s":"b","x":3.376,"y":2.33619},{"s":"b","x":3.538,"y":2.33605},{"s":"b","x":3.758,"y":2.33594},{"s":"b","x":4.419,"y":2.33532},{"s":"b","x":4.801,"y":2.33547},{"s":"b","x":5.331,"y":2.33492},{"s":"b","x":5.728,"y":2.33459},{"s":"b","x":5.948,"y":2.3347},{"s":"b","x":6.08,"y":2.33485},{"s":"b","x":6.374,"y":2.33492},{"s":"b","x":6.8,"y":2.33444},{"s":"b","x":7.05,"y":2.33452},
{"s":"c","x":1.906,"y":2.3355},{"s":"c","x":2.112,"y":2.33514},{"s":"c","x":2.229,"y":2.33441},{"s":"c","x":3.493,"y":2.33401},{"s":"c","x":3.714,"y":2.3347},{"s":"c","x":3.978,"y":2.33459},{"s":"c","x":4.596,"y":2.33346},{"s":"c","x":4.919,"y":2.33342},{"s":"c","x":5.037,"y":2.3336},{"s":"c","x":5.257,"y":2.33368},{"s":"c","x":5.699,"y":2.33404},{"s":"c","x":5.875,"y":2.33415},{"s":"c","x":6.066,"y":2.33419},{"s":"c","x":6.61,"y":2.33397},{"s":"c","x":6.874,"y":2.33379},{"s":"c","x":7.462,"y":2.33375},{"s":"c","x":7.579,"y":2.33375},
{"s":"d","x":1.789,"y":2.33152},{"s":"d","x":2.009,"y":2.33309},{"s":"d","x":2.215,"y":2.33236},{"s":"d","x":2.362,"y":2.33262},{"s":"d","x":2.685,"y":2.33152},{"s":"d","x":2.803,"y":2.33127},{"s":"d","x":2.964,"y":2.33233},{"s":"d","x":3.508,"y":2.33255},{"s":"d","x":4.008,"y":2.33342},{"s":"d","x":4.552,"y":2.33375},{"s":"d","x":5.184,"y":2.33422},{"s":"d","x":5.551,"y":2.33462},{"s":"d","x":6.8,"y":2.33412},{"s":"d","x":7.094,"y":2.33401},{"s":"d","x":7.3,"y":2.33404},{"s":"d","x":7.815,"y":2.33415},{"s":"d","x":8.123,"y":2.33419},{"s":"d","x":8.462,"y":2.33426},
{"s":"e","x":1.921,"y":2.33696},{"s":"e","x":2.215,"y":2.32857},{"s":"e","x":2.421,"y":2.32711},{"s":"e","x":2.891,"y":2.33072},{"s":"e","x":3.009,"y":2.33024},{"s":"e","x":3.302,"y":2.32977},{"s":"e","x":3.391,"y":2.32937},{"s":"e","x":4.066,"y":2.33024},{"s":"e","x":4.361,"y":2.33024},{"s":"e","x":4.713,"y":2.33014},{"s":"e","x":5.125,"y":2.33057},{"s":"e","x":5.875,"y":2.3309},{"s":"e","x":6.095,"y":2.3309},{"s":"e","x":7.094,"y":2.33145},{"s":"e","x":7.373,"y":2.33145},{"s":"e","x":7.785,"y":2.33167},{"s":"e","x":7.947,"y":2.33152},{"s":"e","x":8.109,"y":2.33156},{"s":"e","x":8.712,"y":2.33163},
{"s":"f","x":1.803,"y":2.33138},{"s":"f","x":2.053,"y":2.32675},{"s":"f","x":2.215,"y":2.32675},{"s":"f","x":2.421,"y":2.32631},{"s":"f","x":2.597,"y":2.32605},{"s":"f","x":3.523,"y":2.3289},{"s":"f","x":3.67,"y":2.32926},{"s":"f","x":3.905,"y":2.32959},{"s":"f","x":4.346,"y":2.32996},{"s":"f","x":4.845,"y":2.33054},{"s":"f","x":5.287,"y":2.33141},{"s":"f","x":5.449,"y":2.3309},{"s":"f","x":5.669,"y":2.33101},{"s":"f","x":5.948,"y":2.33116},{"s":"f","x":6.183,"y":2.33127},{"s":"f","x":6.536,"y":2.33101},{"s":"f","x":6.918,"y":2.33105},{"s":"f","x":7.212,"y":2.33101},
{"s":"g","x":1.995,"y":2.3351},{"s":"g","x":2.288,"y":2.33083},{"s":"g","x":2.479,"y":2.32905},{"s":"g","x":2.656,"y":2.32945},{"s":"g","x":3.229,"y":2.33087},{"s":"g","x":3.464,"y":2.33065},{"s":"g","x":3.611,"y":2.33065},{"s":"g","x":4.228,"y":2.33006},{"s":"g","x":4.933,"y":2.32996},{"s":"g","x":5.169,"y":2.33003},{"s":"g","x":5.581,"y":2.33017},{"s":"g","x":5.875,"y":2.33006},{"s":"g","x":6.124,"y":2.33039},{"s":"g","x":6.418,"y":2.33024},{"s":"g","x":6.712,"y":2.3305},{"s":"g","x":6.933,"y":2.33043},
{"s":"h","x":1.921,"y":2.3313},{"s":"h","x":2.068,"y":2.33452},{"s":"h","x":2.421,"y":2.3316},{"s":"h","x":3.244,"y":2.32657},{"s":"h","x":3.405,"y":2.32689},{"s":"h","x":3.831,"y":2.32697},{"s":"h","x":4.052,"y":2.3273},{"s":"h","x":4.317,"y":2.32766},{"s":"h","x":4.478,"y":2.32803},{"s":"h","x":5.066,"y":2.32839},{"s":"h","x":5.301,"y":2.32875},{"s":"h","x":5.522,"y":2.32839},{"s":"h","x":5.728,"y":2.3285},{"s":"h","x":6.786,"y":2.32934},{"s":"h","x":7.05,"y":2.32923},{"s":"h","x":7.256,"y":2.32941},{"s":"h","x":7.52,"y":2.32974},{"s":"h","x":7.932,"y":2.32945},{"s":"h","x":8.389,"y":2.32974}
],
"note":[{"x":7.31,"y":2.32555,"t":"L=32"}],
"ref":[{"y":2.33339}]
},
"resolve":{"axis":{"x":"independent","y":"independent"}},
"layer":[
{"data":{"name":"lines"},"mark":{"type":"line","strokeWidth":1.2,"clip":true},
"encoding":{
"x":{"field":"x","type":"quantitative","scale":{"domain":[0,10],"nice":false,"zero":false},
"axis":{"orient":"bottom","values":[0,2,4,6,8,10],"format":"d","title":"10⁶ MCS","labelPadding":17,"titlePadding":3}},
"y":{"field":"y","type":"quantitative","scale":{"domain":[2.323,2.341],"nice":false,"zero":false},
"axis":{"orient":"left","values":[2.324,2.326,2.328,2.33,2.332,2.334,2.336,2.338,2.34],"format":".3~f","title":"Tc(χ)","labelPadding":15,"titlePadding":24}},
"color":{"field":"s","type":"nominal","legend":null,"scale":{"domain":["a","b","c","d","e","f","g","h"],"range":["#2e8b57","#7f7f7f","#0000ee","#006400","#dc143c","#55129e","#d8706e","#8b0000"]}},
"detail":{"field":"s"}}},
{"data":{"name":"ref"},"mark":{"type":"rule","color":"black","strokeWidth":1,"strokeDash":[8,3,1.5,3,1.5,3]},
"encoding":{"y":{"field":"y","type":"quantitative","axis":null}}},
{"data":{"name":"pts"},"mark":{"type":"point","stroke":"black","strokeWidth":0.8,"size":80,"opacity":1,"clip":true},
"encoding":{
"x":{"field":"x","type":"quantitative","axis":{"orient":"top","values":[0,2,4,6,8,10],"labels":false,"title":null}},
"y":{"field":"y","type":"quantitative","axis":{"orient":"right","values":[2.324,2.326,2.328,2.33,2.332,2.334,2.336,2.338,2.34],"labels":false,"title":null}},
"shape":{"field":"s","type":"nominal","legend":null,"scale":{"domain":["a","b","c","d","e","f","g","h"],"range":["M0,-1L0.951,-0.309L0.588,0.809L-0.588,0.809L-0.951,-0.309Z","circle","triangle-up","M-0.8,-0.8L0.8,0.8M0.8,-0.8L-0.8,0.8","circle","square","diamond","triangle-down"]}},
"fill":{"field":"s","type":"nominal","legend":null,"scale":{"domain":["a","b","c","d","e","f","g","h"],"range":["rgba(0,0,0,0)","rgba(0,0,0,0)","rgba(0,0,0,0)","rgba(0,0,0,0)","black","rgba(0,0,0,0)","rgba(0,0,0,0)","rgba(0,0,0,0)"]}}}},
{"data":{"name":"note"},"mark":{"type":"text","font":"Liberation Serif","fontSize":34,"align":"left","baseline":"alphabetic","color":"black"},
"encoding":{"x":{"field":"x","type":"quantitative","axis":null},"y":{"field":"y","type":"quantitative","axis":null},"text":{"field":"t"}}}
]
}
